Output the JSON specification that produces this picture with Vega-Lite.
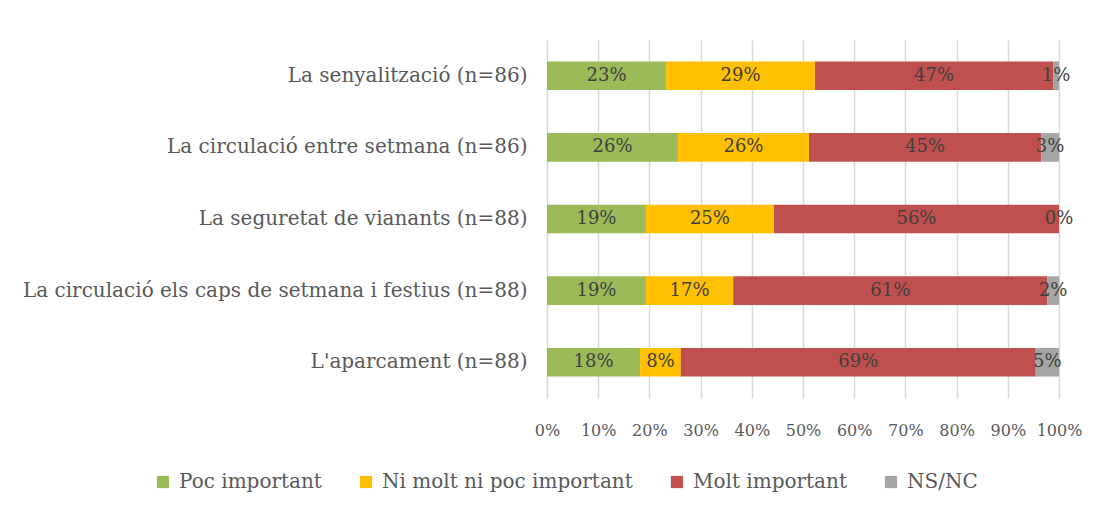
{
  "$schema": "https://vega.github.io/schema/vega-lite/v6.json",
  "width": 512,
  "height": 358,
  "padding": {"top": 40, "left": 22, "right": 30, "bottom": 10},
  "background": "white",
  "config": {
    "font": "DejaVu Serif",
    "view": {"stroke": null},
    "axis": {"labelColor": "#595959", "labelFont": "DejaVu Serif"}
  },
  "data": {
    "values": [
      {"cat": "La senyalització (n=86)", "resp": "Poc important", "k": 1, "v": 0.2326},
      {"cat": "La senyalització (n=86)", "resp": "Ni molt ni poc important", "k": 2, "v": 0.2907},
      {"cat": "La senyalització (n=86)", "resp": "Molt important", "k": 3, "v": 0.4651},
      {"cat": "La senyalització (n=86)", "resp": "NS/NC", "k": 4, "v": 0.0116},
      {"cat": "La circulació entre setmana (n=86)", "resp": "Poc important", "k": 1, "v": 0.2558},
      {"cat": "La circulació entre setmana (n=86)", "resp": "Ni molt ni poc important", "k": 2, "v": 0.2558},
      {"cat": "La circulació entre setmana (n=86)", "resp": "Molt important", "k": 3, "v": 0.4535},
      {"cat": "La circulació entre setmana (n=86)", "resp": "NS/NC", "k": 4, "v": 0.0349},
      {"cat": "La seguretat de vianants (n=88)", "resp": "Poc important", "k": 1, "v": 0.1932},
      {"cat": "La seguretat de vianants (n=88)", "resp": "Ni molt ni poc important", "k": 2, "v": 0.25},
      {"cat": "La seguretat de vianants (n=88)", "resp": "Molt important", "k": 3, "v": 0.5568},
      {"cat": "La seguretat de vianants (n=88)", "resp": "NS/NC", "k": 4, "v": 0.0},
      {"cat": "La circulació els caps de setmana i festius (n=88)", "resp": "Poc important", "k": 1, "v": 0.1932},
      {"cat": "La circulació els caps de setmana i festius (n=88)", "resp": "Ni molt ni poc important", "k": 2, "v": 0.1705},
      {"cat": "La circulació els caps de setmana i festius (n=88)", "resp": "Molt important", "k": 3, "v": 0.6136},
      {"cat": "La circulació els caps de setmana i festius (n=88)", "resp": "NS/NC", "k": 4, "v": 0.0227},
      {"cat": "L'aparcament (n=88)", "resp": "Poc important", "k": 1, "v": 0.1818},
      {"cat": "L'aparcament (n=88)", "resp": "Ni molt ni poc important", "k": 2, "v": 0.0795},
      {"cat": "L'aparcament (n=88)", "resp": "Molt important", "k": 3, "v": 0.6932},
      {"cat": "L'aparcament (n=88)", "resp": "NS/NC", "k": 4, "v": 0.0455}
    ]
  },
  "transform": [
    {"stack": "v", "groupby": ["cat"], "sort": [{"field": "k", "order": "ascending"}], "as": ["x0", "x1"]},
    {"calculate": "(datum.x0 + datum.x1) / 2", "as": "mid"}
  ],
  "encoding": {
    "y": {
      "field": "cat",
      "type": "nominal",
      "sort": null,
      "title": null,
      "scale": {"paddingInner": 0.6, "paddingOuter": 0.3},
      "axis": {"labelFontSize": 20, "labelPadding": 20, "ticks": false, "domain": false, "labelLimit": 700}
    }
  },
  "layer": [
    {
      "mark": {"type": "bar"},
      "encoding": {
        "x": {
          "field": "x0",
          "type": "quantitative",
          "scale": {"domain": [0, 1], "nice": false},
          "title": null,
          "axis": {
            "format": ".0%",
            "values": [0, 0.1, 0.2, 0.3, 0.4, 0.5, 0.6, 0.7, 0.8, 0.9, 1],
            "labelFontSize": 16,
            "labelPadding": 24,
            "labelOverlap": false,
            "labelBound": false,
            "labelFlush": false,
            "ticks": false,
            "domain": false,
            "grid": true,
            "gridColor": "#d9d9d9",
            "gridWidth": 1.5
          }
        },
        "x2": {"field": "x1"},
        "color": {
          "field": "resp",
          "type": "nominal",
          "sort": ["Poc important", "Ni molt ni poc important", "Molt important", "NS/NC"],
          "scale": {
            "domain": ["Poc important", "Ni molt ni poc important", "Molt important", "NS/NC"],
            "range": ["#9BBB59", "#FFC000", "#C0504D", "#A5A5A5"]
          },
          "legend": {
            "orient": "none",
            "legendX": -394,
            "legendY": 432,
            "direction": "horizontal",
            "title": null,
            "symbolType": "square",
            "symbolSize": 150,
            "symbolStrokeWidth": 0,
            "labelFontSize": 20,
            "labelOffset": 6,
            "labelColor": "#595959",
            "labelFont": "DejaVu Serif",
            "columnPadding": 34,
            "labelLimit": 400
          }
        }
      }
    },
    {
      "mark": {"type": "text", "fontSize": 18, "color": "#404040", "font": "DejaVu Serif"},
      "encoding": {
        "x": {"field": "mid", "type": "quantitative"},
        "text": {"field": "v", "type": "quantitative", "format": ".0%"}
      }
    }
  ]
}
